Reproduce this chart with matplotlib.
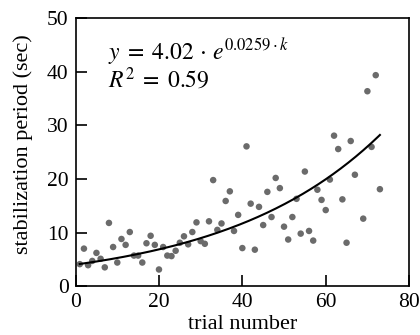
import numpy as np
import matplotlib
matplotlib.use('Agg')
import matplotlib.pyplot as plt

# trial number and stabilization period (no point at trial 68)
trials = [1, 2, 3, 4, 5, 6, 7, 8, 9, 10,
          11, 12, 13, 14, 15, 16, 17, 18, 19, 20,
          21, 22, 23, 24, 25, 26, 27, 28, 29, 30,
          31, 32, 33, 34, 35, 36, 37, 38, 39, 40,
          41, 42, 43, 44, 45, 46, 47, 48, 49, 50,
          51, 52, 53, 54, 55, 56, 57, 58, 59, 60,
          61, 62, 63, 64, 65, 66, 67, 69, 70, 71,
          72, 73]
periods = [4.1, 7.0, 3.9, 4.7, 6.2, 5.1, 3.5, 11.8, 7.3, 4.4,
           8.8, 7.7, 10.1, 5.7, 5.7, 4.4, 8.0, 9.4, 7.7, 3.1,
           7.3, 5.7, 5.6, 6.6, 8.1, 9.3, 7.8, 10.1, 11.9, 8.4,
           7.9, 12.1, 19.8, 10.5, 11.7, 15.9, 17.7, 10.3, 13.3, 7.1,
           26.1, 15.4, 6.8, 14.8, 11.4, 17.6, 12.9, 20.2, 18.3, 11.1,
           8.7, 12.9, 16.3, 9.8, 21.4, 10.3, 8.5, 18.0, 16.1, 14.2,
           19.9, 28.1, 25.6, 16.2, 8.1, 27.1, 20.8, 12.6, 36.4, 26.0,
           39.4, 18.1]

# exponential fit as drawn
fit_a = 4.02
fit_b = 0.0267
fit_range = [1, 73]

plt.rcParams['font.family'] = 'Liberation Serif'
plt.rcParams['mathtext.fontset'] = 'stix'

fig = plt.figure(figsize=(4.2, 3.35), dpi=100)
ax = fig.add_axes([0.180, 0.146, 0.794, 0.799])

ax.scatter(trials, periods, s=22, color='#6b6b6b', edgecolors='none', zorder=2)
kk = np.linspace(fit_range[0], fit_range[1], 200)
ax.plot(kk, fit_a * np.exp(fit_b * kk), color='k', lw=1.5, zorder=3)

ax.set_xlim(0, 80)
ax.set_ylim(0, 50)
ax.set_xticks([0, 20, 40, 60, 80])
ax.set_yticks([0, 10, 20, 30, 40, 50])
ax.tick_params(direction='in', length=8, width=1.2, labelsize=15.5, pad=5)
for sp in ax.spines.values():
    sp.set_linewidth(1.2)

ax.set_xlabel('trial number', fontsize=16, labelpad=2)
ax.set_ylabel('stabilization period (sec)', fontsize=16)
ax.yaxis.set_label_coords(-0.128, 0.531)

ax.text(0.097, 0.875, r'$y\;=\;4.02\,\cdot\,e^{0.0259\cdot k}$', transform=ax.transAxes,
        fontsize=17, va='center', ha='left')
ax.text(0.097, 0.772, r'$R^2\;=\;0.59$', transform=ax.transAxes,
        fontsize=17, va='center', ha='left')

fig.savefig('out.png', dpi=100)
